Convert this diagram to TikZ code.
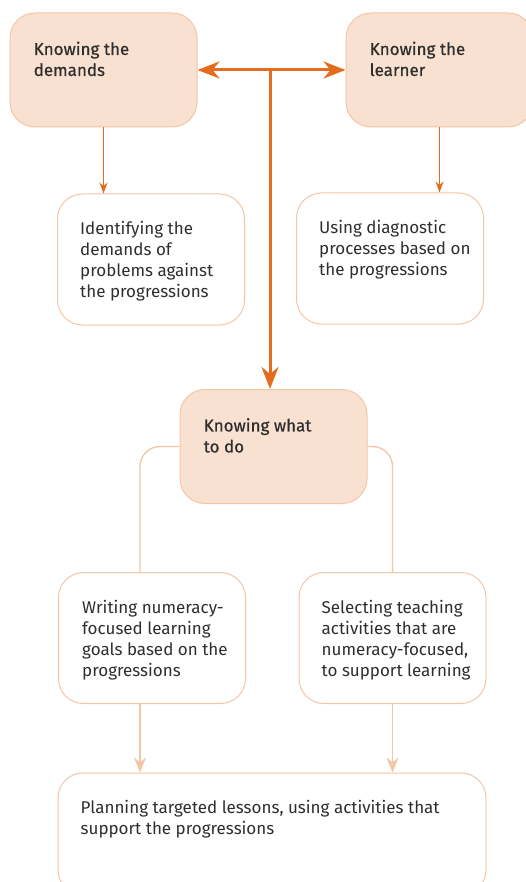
\documentclass[tikz,border=0pt]{standalone}
\usepackage{fontspec}
\setmainfont{Fira Sans}
\usetikzlibrary{arrows.meta}

\definecolor{rust}{HTML}{E46C1E}
\definecolor{peach}{HTML}{F5C6A5}
\definecolor{blush}{HTML}{F9E1D2}
\definecolor{ink}{HTML}{2E2E2E}

\begin{document}
\begin{tikzpicture}[
		x=1pt, y=-1pt,
		box/.style={
			draw=peach,
			line width=1pt,
			rounded corners=25pt,
			minimum width=187pt,
			minimum height=131pt
		},
		keybox/.style={box, fill=blush, minimum height=114pt},
		txt/.style={
			anchor=north west,
			align=left,
			inner sep=0pt,
			text=ink,
			font=\fontsize{17}{21}\selectfont
		},
		head/.style={txt, font=\fontsize{17}{21}\selectfont\addfontfeature{FakeBold=0.6}},
		main/.style={<->, line width=3pt, draw=rust, >={Stealth[length=22pt, width=17pt, inset=7pt]}},
		down/.style={->, line width=1.4pt, draw=rust, >={Stealth[length=11pt, width=8pt]}},
		feed/.style={->, line width=1.4pt, draw=peach, >={Stealth[length=15pt, width=12pt]}},
		branch/.style={line width=1.4pt, draw=peach, rounded corners=20pt}
		]
		
		\useasboundingbox (0,0) rectangle (526,882);
		
		% Key boxes
		\node[keybox] (demands) at (103.5,70) {};
		\node[keybox] (learner) at (439.5,70) {};
		\node[keybox] (what) at (273.5,446.5) {};
		
		% Activity boxes
		\node[box] (identify) at (151,259.5) {};
		\node[box] (diagnose) at (390,258.5) {};
		\node[box] (writing) at (152,638) {};
		\node[box] (selecting) at (392.5,638) {};
		\node[box, minimum width=428pt, minimum height=122pt] (planning) at (272,834) {};
		
		% Texts
		\node[head] (tdemands) at ([shift={(24,29)}]demands.north west) {Knowing the\\demands};
		\node[head] (tlearner) at ([shift={(24,29)}]learner.north west) {Knowing the\\learner};
		\node[head] (twhat) at ([shift={(24,29)}]what.north west) {Knowing what\\to do};
		\node[txt] (tidentify) at ([shift={(23,28)}]identify.north west) {Identifying the\\demands of\\problems against\\the progressions};
		\node[txt] (tdiagnose) at ([shift={(23,28)}]diagnose.north west) {Using diagnostic\\processes based on\\the progressions};
		\node[txt] (twriting) at ([shift={(24,28)}]writing.north west) {Writing numeracy-\\focused learning\\goals based on the\\progressions};
		\node[txt] (tselecting) at ([shift={(23,28)}]selecting.north west) {Selecting teaching\\activities that are\\numeracy-focused,\\to support learning};
		\node[txt] (tplanning) at ([shift={(23,28)}]planning.north west) {Planning targeted lessons, using activities that\\support the progressions};
		
		% Main links
		\coordinate (hub) at (270,71);
		\draw[main] (demands) -- (learner);
		\draw[main, -{Stealth[length=22pt, width=17pt, inset=7pt]}] (hub) -- (hub |- what.north);
		
		\draw[down] (demands.south) -- (demands.south |- identify.north);
		\draw[down] (learner.south) -- (learner.south |- diagnose.north);
		
		% Branches to the lower boxes
		\draw[branch] (what.west) -| ([xshift=-12pt]writing.north);
		\draw[branch] (what.east) -| (selecting.north);
		
		\draw[feed] ([xshift=-12pt]writing.south) -- ([xshift=-12pt]writing.south |- planning.north);
		\draw[feed] (selecting.south) -- (selecting.south |- planning.north);
		
	\end{tikzpicture}
\end{document}
